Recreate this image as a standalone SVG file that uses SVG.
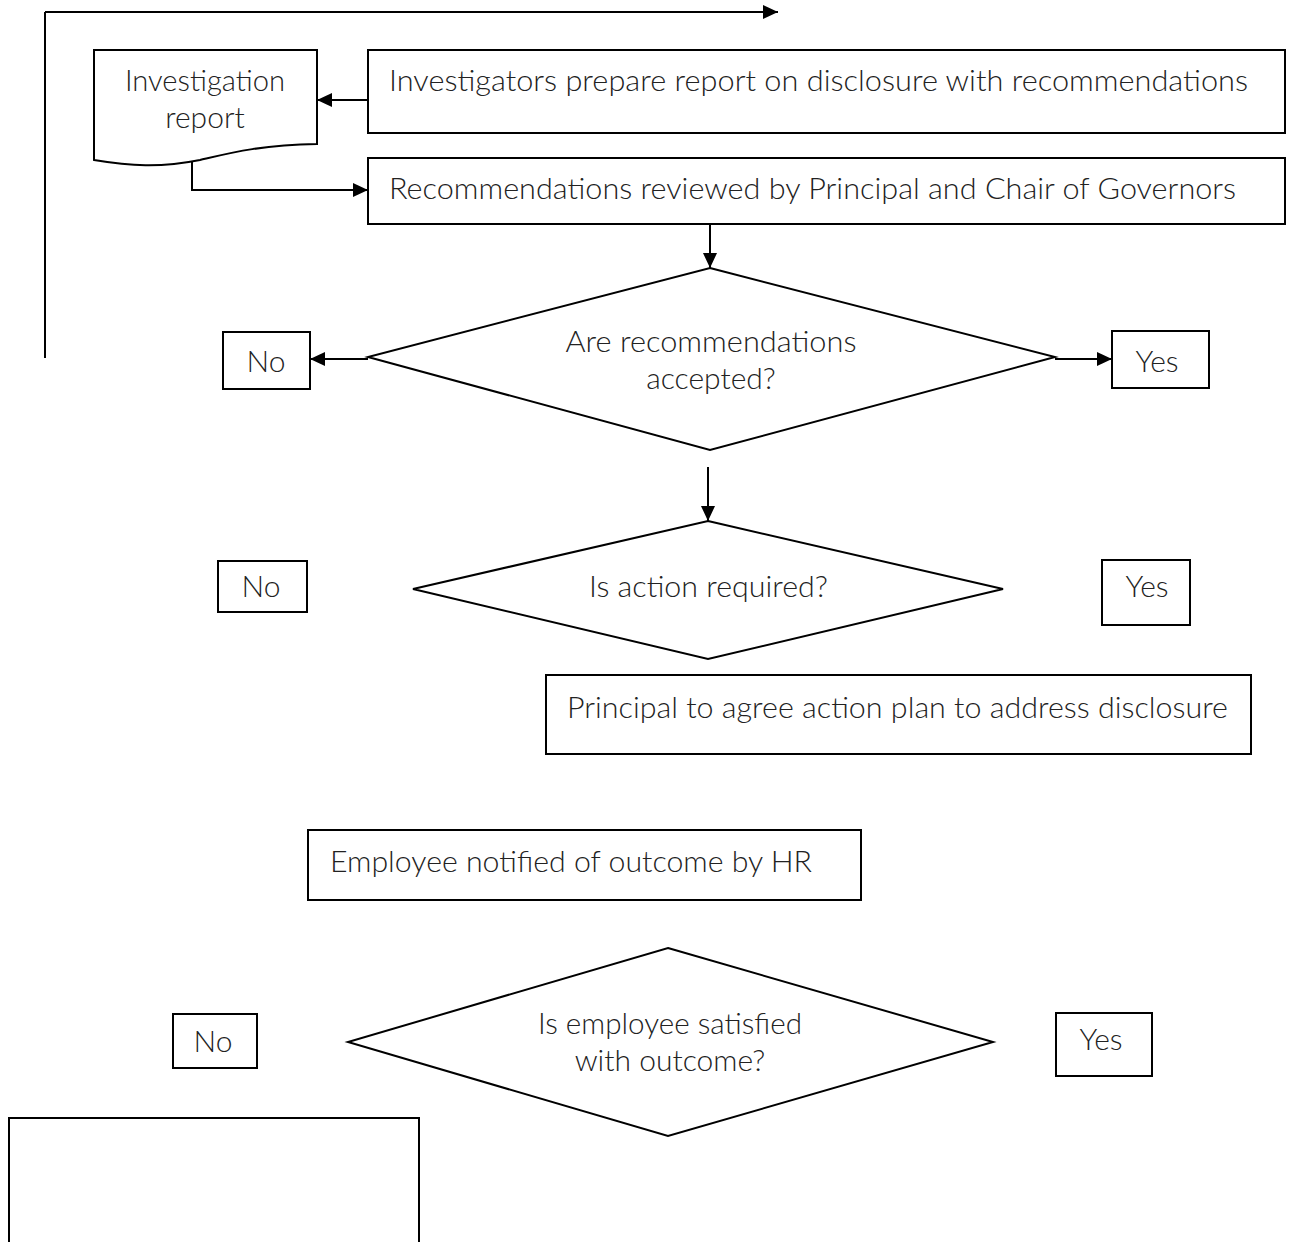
<svg xmlns="http://www.w3.org/2000/svg" width="1290" height="1242" viewBox="0 0 1290 1242">
<defs>
<marker id="ah" markerWidth="15" markerHeight="14" refX="15" refY="7" orient="auto" markerUnits="userSpaceOnUse"><path d="M0,0 L15,7 L0,14 Z" fill="#000"/></marker>
<style>
.s{fill:#fff;stroke:#000;stroke-width:2}
.c{fill:none;stroke:#000;stroke-width:2}
.ca{fill:none;stroke:#000;stroke-width:2;marker-end:url(#ah)}
text{font-family:Lato,"Open Sans","Liberation Sans",sans-serif;font-weight:300;font-size:30px;fill:#222}
.m{text-anchor:middle}
</style>
</defs>
<rect width="1290" height="1242" fill="#fff"/>
<g id="connectors">
<path class="c" d="M45,358 V12"/>
<path class="ca" d="M45,12 H778"/>
<path class="ca" d="M368,100 H317"/>
<path class="ca" d="M192,162 V190 H368"/>
<path class="ca" d="M710,224 V268"/>
<path class="ca" d="M368,359 H310"/>
<path class="ca" d="M1055,359 H1112"/>
<path class="ca" d="M708,467 V521"/>
</g>
<g id="investigation-report">
<path class="s" d="M94,50 H317 V144 C260,145 230,153 200,160 C160,168 130,166 94,160 Z"/>
<text class="m" x="205" y="91" textLength="160" lengthAdjust="spacingAndGlyphs">Investigation</text>
<text class="m" x="205" y="128">report</text>
</g>
<g id="prepare-report">
<rect class="s" x="368" y="50" width="917" height="83"/>
<text x="389" y="91" textLength="859" lengthAdjust="spacingAndGlyphs">Investigators prepare report on disclosure with recommendations</text>
</g>
<g id="reviewed">
<rect class="s" x="368" y="158" width="917" height="66"/>
<text x="389" y="199" textLength="847" lengthAdjust="spacingAndGlyphs">Recommendations reviewed by Principal and Chair of Governors</text>
</g>
<g id="decision-accepted">
<polygon class="s" points="710,268 1055,357 710,450 368,357"/>
<text class="m" x="711" y="352" textLength="291" lengthAdjust="spacingAndGlyphs">Are recommendations</text>
<text class="m" x="711" y="389">accepted?</text>
</g>
<g id="no-1">
<rect class="s" x="223" y="332" width="87" height="57"/>
<text class="m" x="266" y="372">No</text>
</g>
<g id="yes-1">
<rect class="s" x="1112" y="331" width="97" height="57"/>
<text class="m" x="1157" y="372">Yes</text>
</g>
<g id="decision-action">
<polygon class="s" points="708,521 1003,589 708,659 413,589"/>
<text x="589" y="597" textLength="239" lengthAdjust="spacingAndGlyphs">Is action required?</text>
</g>
<g id="no-2">
<rect class="s" x="218" y="561" width="89" height="51"/>
<text class="m" x="261" y="597">No</text>
</g>
<g id="yes-2">
<rect class="s" x="1102" y="560" width="88" height="65"/>
<text class="m" x="1147" y="597">Yes</text>
</g>
<g id="action-plan">
<rect class="s" x="546" y="675" width="705" height="79"/>
<text x="567" y="718" textLength="661" lengthAdjust="spacingAndGlyphs">Principal to agree action plan to address disclosure</text>
</g>
<g id="employee-notified">
<rect class="s" x="308" y="830" width="553" height="70"/>
<text x="330" y="872" textLength="482" lengthAdjust="spacingAndGlyphs">Employee notified of outcome by HR</text>
</g>
<g id="decision-satisfied">
<polygon class="s" points="668,948 993,1042 668,1136 348,1042"/>
<text class="m" x="670" y="1034" textLength="264" lengthAdjust="spacingAndGlyphs">Is employee satisfied</text>
<text class="m" x="670" y="1071">with outcome?</text>
</g>
<g id="no-3">
<rect class="s" x="173" y="1014" width="84" height="54"/>
<text class="m" x="213" y="1052">No</text>
</g>
<g id="yes-3">
<rect class="s" x="1056" y="1013" width="96" height="63"/>
<text class="m" x="1101" y="1050">Yes</text>
</g>
<g id="empty-box">
<rect class="s" x="9" y="1118" width="410" height="140"/>
</g>
</svg>
